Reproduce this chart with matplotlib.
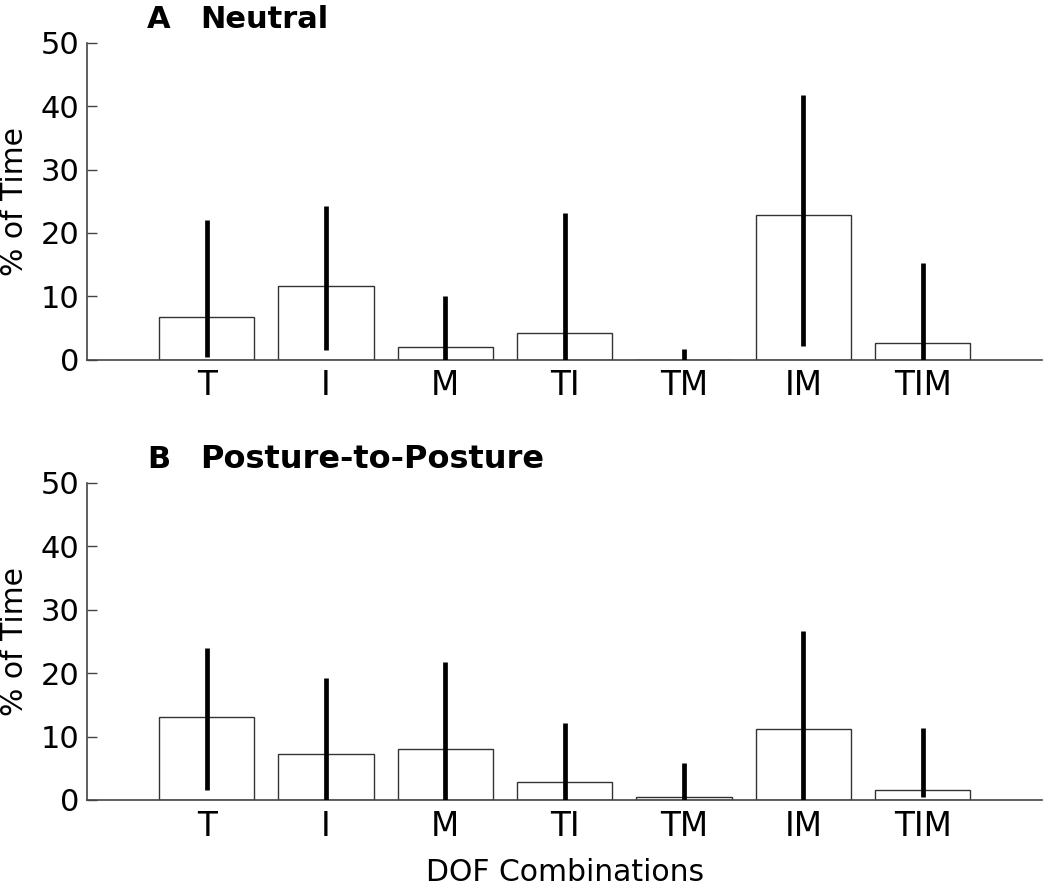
import matplotlib
matplotlib.use('Agg')
import matplotlib.pyplot as plt

plt.rcParams['font.family'] = ['DejaVu Sans']

combos = ['T', 'I', 'M', 'TI', 'TM', 'IM', 'TIM']

# panel A - neutral
neutral_mean = [6.7, 11.7, 2.05, 4.15, 0.0, 22.9, 2.7]
neutral_low = [0.4, 1.5, 0.0, 0.0, 0.0, 2.2, 0.0]
neutral_high = [22.1, 24.2, 10.0, 23.1, 1.7, 41.8, 15.2]

# panel B - posture-to-posture
p2p_mean = [13.1, 7.25, 8.05, 2.9, 0.4, 11.15, 1.5]
p2p_low = [1.5, 0.0, 0.0, 0.0, 0.0, 0.0, 0.4]
p2p_high = [24.0, 19.2, 21.8, 12.2, 5.9, 26.6, 11.4]

panels = [
    ('A', 'Neutral', 22, neutral_mean, neutral_low, neutral_high),
    ('B', 'Posture-to-Posture', 23, p2p_mean, p2p_low, p2p_high),
]

fig = plt.figure(figsize=(10.5, 8.86), dpi=100)
rects = [[0.0831, 0.594, 0.9093, 0.3578], [0.0831, 0.0971, 0.9093, 0.3581]]

x = list(range(1, len(combos) + 1))
for rect, (letter, title, tsize, mean, low, high) in zip(rects, panels):
    ax = fig.add_axes(rect)
    ax.bar(x, mean, width=0.8, color='white', edgecolor='#333333', linewidth=1.0, zorder=2)
    yerr = [[m - lo for m, lo in zip(mean, low)], [hi - m for m, hi in zip(mean, high)]]
    ax.errorbar(x, mean, yerr=yerr, fmt='none', ecolor='black', elinewidth=3.4, capsize=0, zorder=3)

    ax.set_xlim(0, 8)
    ax.set_ylim(0, 50)
    ax.set_yticks([0, 10, 20, 30, 40, 50])
    ax.set_xticks(x)
    ax.set_xticklabels(combos)

    for side in ['top', 'right']:
        ax.spines[side].set_visible(False)
    for side in ['left', 'bottom']:
        ax.spines[side].set_color('#444444')
        ax.spines[side].set_linewidth(1.2)

    ax.tick_params(axis='y', direction='in', length=7, width=1, color='#444444',
                   labelsize=22, pad=5.5)
    ax.tick_params(axis='x', length=0, labelsize=23.5, pad=7)

    ax.set_ylabel('% of Time', fontsize=21.5)
    ax.yaxis.set_label_coords(-0.061, 0.5)

    ax.text(0.0625, 1.0454, letter, transform=ax.transAxes, fontsize=22,
            fontweight='bold', ha='left', va='baseline')
    ax.text(0.118, 1.0454, title, transform=ax.transAxes, fontsize=tsize,
            fontweight='bold', ha='left', va='baseline')

ax.set_xlabel('DOF Combinations', fontsize=21.5)
ax.xaxis.set_label_coords(0.5, -0.183)

plt.savefig('out.png', dpi=100)
plt.close()
